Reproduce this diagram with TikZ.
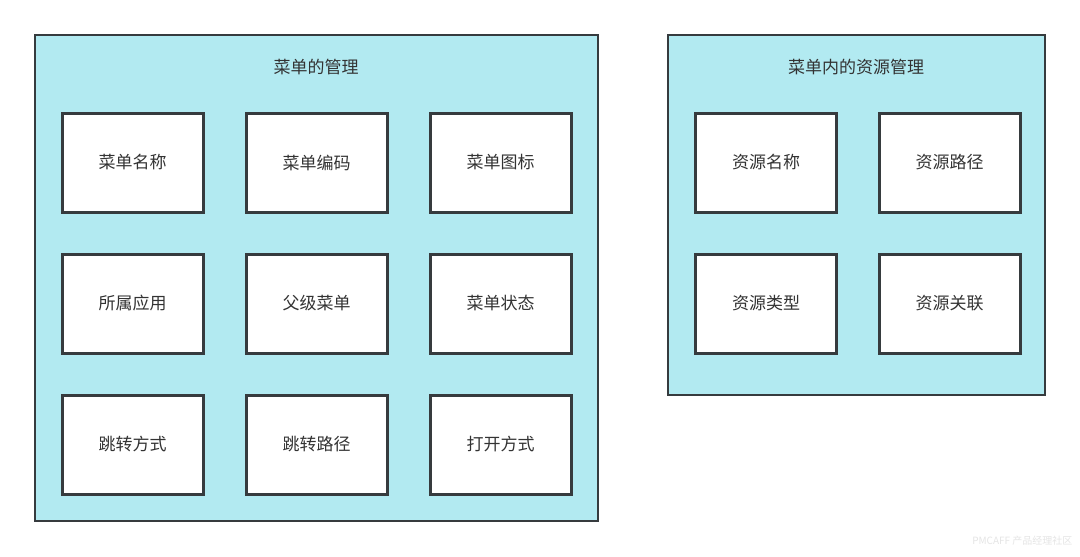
\documentclass[tikz,border=0pt]{standalone}
\usepackage{fontspec}
\setmainfont{Noto Sans CJK SC}
\usepackage{tikz}
\definecolor{panelfill}{HTML}{B2EAF1}
\definecolor{linegray}{HTML}{363B3E}
\definecolor{textgray}{HTML}{333333}
\tikzset{
  panel/.style={draw=linegray, line width=2.5pt, fill=panelfill},
  item/.style={draw=linegray, line width=3pt, fill=white, minimum width=141pt, minimum height=99pt, inner sep=0pt, text=textgray, font=\fontsize{17}{20}\selectfont},
  heading/.style={text=textgray, font=\fontsize{17}{20}\selectfont}
}

\begin{document}
\begin{tikzpicture}[x=1pt,y=-1pt]
\useasboundingbox [fill=white] (0,0) rectangle (1080,557);

% menu management
\draw [panel] (35,35) rectangle (598,521);
\node [heading] (menutitle) at (316,67) {菜单的管理};
\node [item] (menuname) at (132.5,162.5) {菜单名称};
\node [item] (menucode) at (316.5,162.5) {菜单编码};
\node [item] (menuicon) at (500.5,162.5) {菜单图标};
\node [item] (menuapp) at (132.5,303.5) {所属应用};
\node [item] (menuparent) at (316.5,303.5) {父级菜单};
\node [item] (menustate) at (500.5,303.5) {菜单状态};
\node [item] (jumpmode) at (132.5,444.5) {跳转方式};
\node [item] (jumppath) at (316.5,444.5) {跳转路径};
\node [item] (openmode) at (500.5,444.5) {打开方式};

% resources in the menu
\draw [panel] (668,35) rectangle (1045,395);
\node [heading] (restitle) at (856,67) {菜单内的资源管理};
\node [item] (resname) at (766,162.5) {资源名称};
\node [item] (respath) at (949.5,162.5) {资源路径};
\node [item] (restype) at (766,303.5) {资源类型};
\node [item] (reslink) at (949.5,303.5) {资源关联};

% watermark
\node [text=black!10, font=\fontsize{10}{12}\selectfont, anchor=east] (mark) at (1076,541) {PMCAFF 产品经理社区};
\end{tikzpicture}
\end{document}
